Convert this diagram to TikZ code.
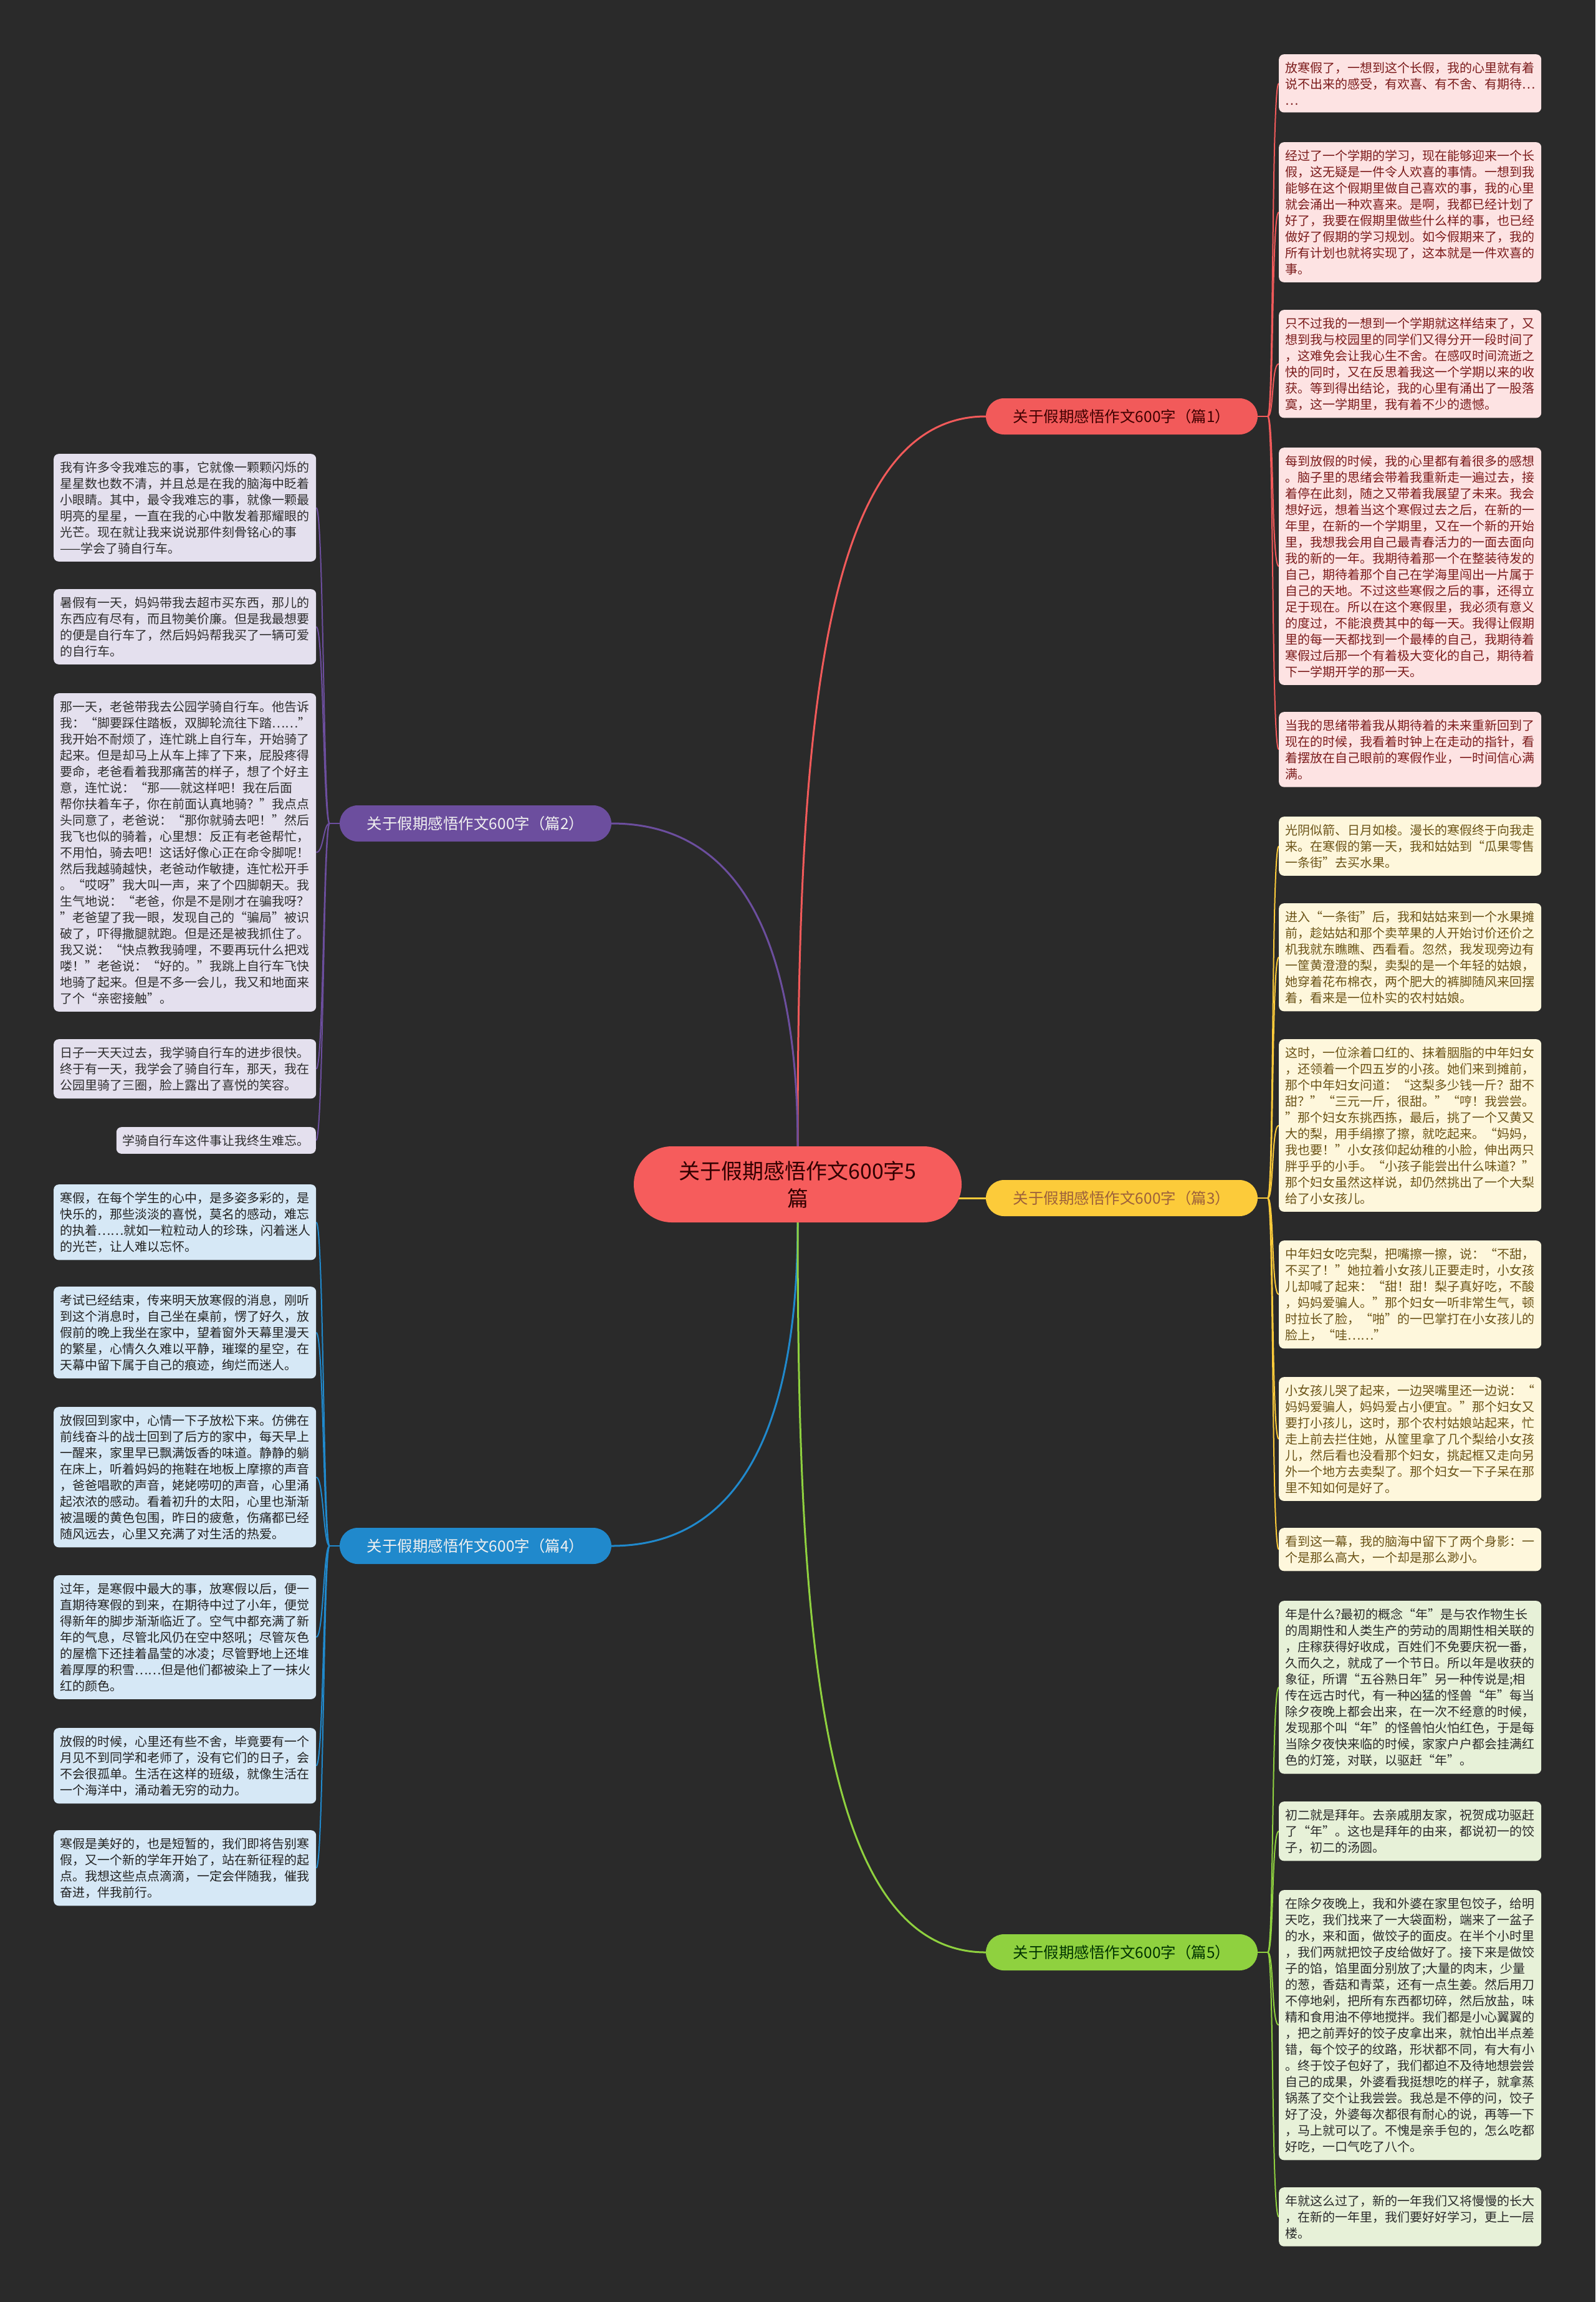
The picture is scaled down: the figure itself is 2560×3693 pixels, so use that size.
\documentclass[tikz,border=0pt]{standalone}
\usepackage{fontspec}
\setmainfont{Noto Sans CJK SC}
\usetikzlibrary{calc}
\definecolor{bgc}{HTML}{2A2A2A}
\definecolor{cred}{HTML}{F25A5A}
\definecolor{cctr}{HTML}{F65C5C}
\definecolor{redfill}{HTML}{FDE3E3}
\definecolor{redtext}{HTML}{7B1B1B}
\definecolor{cyel}{HTML}{FCCB3A}
\definecolor{yelfill}{HTML}{FEF7DC}
\definecolor{yeltext}{HTML}{6B5317}
\definecolor{cpur}{HTML}{6C4E9E}
\definecolor{purfill}{HTML}{E4E0EE}
\definecolor{purtext}{HTML}{2E2E2E}
\definecolor{cblu}{HTML}{2089CC}
\definecolor{blufill}{HTML}{D6E8F6}
\definecolor{blutext}{HTML}{222222}
\definecolor{cgrn}{HTML}{8FD13F}
\definecolor{grnfill}{HTML}{E7F1D8}
\definecolor{grntext}{HTML}{2A2A2A}
\pgfdeclarelayer{back}
\pgfdeclarelayer{conn}
\pgfsetlayers{back,conn,main}
\begin{document}
\begin{tikzpicture}[x=1pt,y=-1pt,
  leaf/.style={anchor=north west, text width=401pt, inner xsep=10pt, inner ysep=12pt,
    rounded corners=8pt, align=left, font={\fontsize{20pt}{26pt}\selectfont}},
  leafr/.style={leaf, fill=redfill, text=redtext},
  leafy/.style={leaf, fill=yelfill, text=yeltext},
  leafp/.style={leaf, fill=purfill, text=purtext},
  leafb/.style={leaf, fill=blufill, text=blutext},
  leafg/.style={leaf, fill=grnfill, text=grntext},
  branch/.style={minimum width=436pt, minimum height=58pt, rounded corners=29pt, inner sep=0pt,
    font={\fontsize{24.5pt}{28pt}\selectfont}},
  mainline/.style={line width=3pt},
  subline/.style={line width=2pt}
]
\useasboundingbox (0,0) rectangle (2560,3693);
\begin{pgfonlayer}{back}
\fill[bgc] (0,0) rectangle (2560,3693);
\end{pgfonlayer}

% center
\node[fill=cctr, text=black!80!red, minimum width=526pt, minimum height=122pt, rounded corners=61pt,
  inner sep=0pt, align=center, font={\fontsize{34pt}{44pt}\selectfont}] (c) at (1280,1900)
  {关于假期感悟作文600字5\\篇};

% branches
\node[branch, fill=cred, text=black!75!red] (b1) at (1800,668) {关于假期感悟作文600字（篇1）};
\node[branch, fill=cpur, text=white!94!black] (b2) at (763,1321) {关于假期感悟作文600字（篇2）};
\node[branch, fill=cyel, text=black!70!yellow!60!red] (b3) at (1800,1922) {关于假期感悟作文600字（篇3）};
\node[branch, fill=cblu, text=white!94!black] (b4) at (763,2480) {关于假期感悟作文600字（篇4）};
\node[branch, fill=cgrn, text=black!80!green] (b5) at (1800,3132) {关于假期感悟作文600字（篇5）};

% ---- branch 1 leaves
\node[leafr] (r1a) at (2052,87) {放寒假了，一想到这个长假，我的心里就有着\\
说不出来的感受，有欢喜、有不舍、有期待…\\
…};
\node[leafr] (r1b) at (2052,228) {经过了一个学期的学习，现在能够迎来一个长\\
假，这无疑是一件令人欢喜的事情。一想到我\\
能够在这个假期里做自己喜欢的事，我的心里\\
就会涌出一种欢喜来。是啊，我都已经计划了\\
好了，我要在假期里做些什么样的事，也已经\\
做好了假期的学习规划。如今假期来了，我的\\
所有计划也就将实现了，这本就是一件欢喜的\\
事。};
\node[leafr] (r1c) at (2052,497) {只不过我的一想到一个学期就这样结束了，又\\
想到我与校园里的同学们又得分开一段时间了\\
，这难免会让我心生不舍。在感叹时间流逝之\\
快的同时，又在反思着我这一个学期以来的收\\
获。等到得出结论，我的心里有涌出了一股落\\
寞，这一学期里，我有着不少的遗憾。};
\node[leafr] (r1d) at (2052,718) {每到放假的时候，我的心里都有着很多的感想\\
。脑子里的思绪会带着我重新走一遍过去，接\\
着停在此刻，随之又带着我展望了未来。我会\\
想好远，想着当这个寒假过去之后，在新的一\\
年里，在新的一个学期里，又在一个新的开始\\
里，我想我会用自己最青春活力的一面去面向\\
我的新的一年。我期待着那一个在整装待发的\\
自己，期待着那个自己在学海里闯出一片属于\\
自己的天地。不过这些寒假之后的事，还得立\\
足于现在。所以在这个寒假里，我必须有意义\\
的度过，不能浪费其中的每一天。我得让假期\\
里的每一天都找到一个最棒的自己，我期待着\\
寒假过后那一个有着极大变化的自己，期待着\\
下一学期开学的那一天。};
\node[leafr] (r1e) at (2052,1142) {当我的思绪带着我从期待着的未来重新回到了\\
现在的时候，我看着时钟上在走动的指针，看\\
着摆放在自己眼前的寒假作业，一时间信心满\\
满。};

% ---- branch 3 leaves
\node[leafy] (r3a) at (2052,1310) {光阴似箭、日月如梭。漫长的寒假终于向我走\\
来。在寒假的第一天，我和姑姑到“瓜果零售\\
一条街”去买水果。};
\node[leafy] (r3b) at (2052,1449) {进入“一条街”后，我和姑姑来到一个水果摊\\
前，趁姑姑和那个卖苹果的人开始讨价还价之\\
机我就东瞧瞧、西看看。忽然，我发现旁边有\\
一筐黄澄澄的梨，卖梨的是一个年轻的姑娘，\\
她穿着花布棉衣，两个肥大的裤脚随风来回摆\\
着，看来是一位朴实的农村姑娘。};
\node[leafy] (r3c) at (2052,1667) {这时，一位涂着口红的、抹着胭脂的中年妇女\\
，还领着一个四五岁的小孩。她们来到摊前，\\
那个中年妇女问道：“这梨多少钱一斤？甜不\\
甜？”“三元一斤，很甜。”“哼！我尝尝。\\
”那个妇女东挑西拣，最后，挑了一个又黄又\\
大的梨，用手绢擦了擦，就吃起来。“妈妈，\\
我也要！”小女孩仰起幼稚的小脸，伸出两只\\
胖乎乎的小手。“小孩子能尝出什么味道？”\\
那个妇女虽然这样说，却仍然挑出了一个大梨\\
给了小女孩儿。};
\node[leafy] (r3d) at (2052,1990) {中年妇女吃完梨，把嘴擦一擦，说：“不甜，\\
不买了！”她拉着小女孩儿正要走时，小女孩\\
儿却喊了起来：“甜！甜！梨子真好吃，不酸\\
，妈妈爱骗人。”那个妇女一听非常生气，顿\\
时拉长了脸，“啪”的一巴掌打在小女孩儿的\\
脸上，“哇……”};
\node[leafy] (r3e) at (2052,2209) {小女孩儿哭了起来，一边哭嘴里还一边说：“\\
妈妈爱骗人，妈妈爱占小便宜。”那个妇女又\\
要打小孩儿，这时，那个农村姑娘站起来，忙\\
走上前去拦住她，从筐里拿了几个梨给小女孩\\
儿，然后看也没看那个妇女，挑起框又走向另\\
外一个地方去卖梨了。那个妇女一下子呆在那\\
里不知如何是好了。};
\node[leafy] (r3f) at (2052,2451) {看到这一幕，我的脑海中留下了两个身影：一\\
个是那么高大，一个却是那么渺小。};

% ---- branch 5 leaves
\node[leafg] (r5a) at (2052,2568) {年是什么?最初的概念“年”是与农作物生长\\
的周期性和人类生产的劳动的周期性相关联的\\
，庄稼获得好收成，百姓们不免要庆祝一番，\\
久而久之，就成了一个节日。所以年是收获的\\
象征，所谓“五谷熟日年”另一种传说是;相\\
传在远古时代，有一种凶猛的怪兽“年”每当\\
除夕夜晚上都会出来，在一次不经意的时候，\\
发现那个叫“年”的怪兽怕火怕红色，于是每\\
当除夕夜快来临的时候，家家户户都会挂满红\\
色的灯笼，对联，以驱赶“年”。};
\node[leafg] (r5b) at (2052,2890) {初二就是拜年。去亲戚朋友家，祝贺成功驱赶\\
了“年”。这也是拜年的由来，都说初一的饺\\
子，初二的汤圆。};
\node[leafg] (r5c) at (2052,3032) {在除夕夜晚上，我和外婆在家里包饺子，给明\\
天吃，我们找来了一大袋面粉，端来了一盆子\\
的水，来和面，做饺子的面皮。在半个小时里\\
，我们两就把饺子皮给做好了。接下来是做饺\\
子的馅，馅里面分别放了;大量的肉末，少量\\
的葱，香菇和青菜，还有一点生姜。然后用刀\\
不停地剁，把所有东西都切碎，然后放盐，味\\
精和食用油不停地搅拌。我们都是小心翼翼的\\
，把之前弄好的饺子皮拿出来，就怕出半点差\\
错，每个饺子的纹路，形状都不同，有大有小\\
。终于饺子包好了，我们都迫不及待地想尝尝\\
自己的成果，外婆看我挺想吃的样子，就拿蒸\\
锅蒸了交个让我尝尝。我总是不停的问，饺子\\
好了没，外婆每次都很有耐心的说，再等一下\\
，马上就可以了。不愧是亲手包的，怎么吃都\\
好吃，一口气吃了八个。};
\node[leafg] (r5d) at (2052,3509) {年就这么过了，新的一年我们又将慢慢的长大\\
，在新的一年里，我们要好好学习，更上一层\\
楼。};

% ---- branch 2 leaves
\node[leafp] (l2a) at (86,728) {我有许多令我难忘的事，它就像一颗颗闪烁的\\
星星数也数不清，并且总是在我的脑海中眨着\\
小眼睛。其中，最令我难忘的事，就像一颗最\\
明亮的星星，一直在我的心中散发着那耀眼的\\
光芒。现在就让我来说说那件刻骨铭心的事\\
——学会了骑自行车。};
\node[leafp] (l2b) at (86,945) {暑假有一天，妈妈带我去超市买东西，那儿的\\
东西应有尽有，而且物美价廉。但是我最想要\\
的便是自行车了，然后妈妈帮我买了一辆可爱\\
的自行车。};
\node[leafp] (l2c) at (86,1112) {那一天，老爸带我去公园学骑自行车。他告诉\\
我：“脚要踩住踏板，双脚轮流往下踏……”\\
我开始不耐烦了，连忙跳上自行车，开始骑了\\
起来。但是却马上从车上摔了下来，屁股疼得\\
要命，老爸看着我那痛苦的样子，想了个好主\\
意，连忙说：“那——就这样吧！我在后面\\
帮你扶着车子，你在前面认真地骑？”我点点\\
头同意了，老爸说：“那你就骑去吧！”然后\\
我飞也似的骑着，心里想：反正有老爸帮忙，\\
不用怕，骑去吧！这话好像心正在命令脚呢！\\
然后我越骑越快，老爸动作敏捷，连忙松开手\\
。“哎呀”我大叫一声，来了个四脚朝天。我\\
生气地说：“老爸，你是不是刚才在骗我呀？\\
”老爸望了我一眼，发现自己的“骗局”被识\\
破了，吓得撒腿就跑。但是还是被我抓住了。\\
我又说：“快点教我骑哩，不要再玩什么把戏\\
喽！”老爸说：“好的。”我跳上自行车飞快\\
地骑了起来。但是不多一会儿，我又和地面来\\
了个“亲密接触”。};
\node[leafp] (l2d) at (86,1667) {日子一天天过去，我学骑自行车的进步很快。\\
终于有一天，我学会了骑自行车，那天，我在\\
公园里骑了三圈，脸上露出了喜悦的笑容。};
\node[leafp, anchor=north east, text width=] (l2e) at (507,1808) {学骑自行车这件事让我终生难忘。};

% ---- branch 4 leaves
\node[leafb] (l4a) at (86,1900) {寒假，在每个学生的心中，是多姿多彩的，是\\
快乐的，那些淡淡的喜悦，莫名的感动，难忘\\
的执着……就如一粒粒动人的珍珠，闪着迷人\\
的光芒，让人难以忘怀。};
\node[leafb] (l4b) at (86,2064) {考试已经结束，传来明天放寒假的消息，刚听\\
到这个消息时，自己坐在桌前，愣了好久，放\\
假前的晚上我坐在家中，望着窗外天幕里漫天\\
的繁星，心情久久难以平静，璀璨的星空，在\\
天幕中留下属于自己的痕迹，绚烂而迷人。};
\node[leafb] (l4c) at (86,2257) {放假回到家中，心情一下子放松下来。仿佛在\\
前线奋斗的战士回到了后方的家中，每天早上\\
一醒来，家里早已飘满饭香的味道。静静的躺\\
在床上，听着妈妈的拖鞋在地板上摩擦的声音\\
，爸爸唱歌的声音，姥姥唠叨的声音，心里涌\\
起浓浓的感动。看着初升的太阳，心里也渐渐\\
被温暖的黄色包围，昨日的疲惫，伤痛都已经\\
随风远去，心里又充满了对生活的热爱。};
\node[leafb] (l4d) at (86,2527) {过年，是寒假中最大的事，放寒假以后，便一\\
直期待寒假的到来，在期待中过了小年，便觉\\
得新年的脚步渐渐临近了。空气中都充满了新\\
年的气息，尽管北风仍在空中怒吼；尽管灰色\\
的屋檐下还挂着晶莹的冰凌；尽管野地上还堆\\
着厚厚的积雪……但是他们都被染上了一抹火\\
红的颜色。};
\node[leafb] (l4e) at (86,2772) {放假的时候，心里还有些不舍，毕竟要有一个\\
月见不到同学和老师了，没有它们的日子，会\\
不会很孤单。生活在这样的班级，就像生活在\\
一个海洋中，涌动着无穷的动力。};
\node[leafb] (l4f) at (86,2936) {寒假是美好的，也是短暂的，我们即将告别寒\\
假，又一个新的学年开始了，站在新征程的起\\
点。我想这些点点滴滴，一定会伴随我，催我\\
奋进，伴我前行。};

% ---- connectors
\coordinate (b1s) at ($(b1.east)+(16,0)$);
\coordinate (b3s) at ($(b3.east)+(16,0)$);
\coordinate (b5s) at ($(b5.east)+(16,0)$);
\coordinate (b2s) at ($(b2.west)+(-16,0)$);
\coordinate (b4s) at ($(b4.west)+(-16,0)$);
\begin{pgfonlayer}{conn}
\draw[mainline, cred] (c.north) .. controls +(0,-640) and +(-270,0) .. (b1.west);
\draw[mainline, cpur] (c.north) .. controls +(0,-340) and +(200,0) .. (b2.east);
\draw[mainline, cyel] ($(c.east |- b3.west)+(-20,0)$) -- (b3.west);
\draw[mainline, cblu] (c.south) .. controls +(0,340) and +(200,0) .. (b4.east);
\draw[mainline, cgrn] (c.south) .. controls +(0,640) and +(-270,0) .. (b5.west);

\draw[subline, cred] (b1.east) -- (b1s);
\foreach \n in {r1a,r1b,r1c,r1d,r1e}
  \draw[subline, cred] (b1s) .. controls +(10,0) and +(-12,0) .. (\n.west);
\draw[subline, cyel] (b3.east) -- (b3s);
\foreach \n in {r3a,r3b,r3c,r3d,r3e,r3f}
  \draw[subline, cyel] (b3s) .. controls +(10,0) and +(-12,0) .. (\n.west);
\draw[subline, cgrn] (b5.east) -- (b5s);
\foreach \n in {r5a,r5b,r5c,r5d}
  \draw[subline, cgrn] (b5s) .. controls +(10,0) and +(-12,0) .. (\n.west);
\draw[subline, cpur] (b2.west) -- (b2s);
\foreach \n in {l2a,l2b,l2c,l2d,l2e}
  \draw[subline, cpur] (b2s) .. controls +(-10,0) and +(12,0) .. (\n.east);
\draw[subline, cblu] (b4.west) -- (b4s);
\foreach \n in {l4a,l4b,l4c,l4d,l4e,l4f}
  \draw[subline, cblu] (b4s) .. controls +(-10,0) and +(12,0) .. (\n.east);
\end{pgfonlayer}
\end{tikzpicture}
\end{document}
